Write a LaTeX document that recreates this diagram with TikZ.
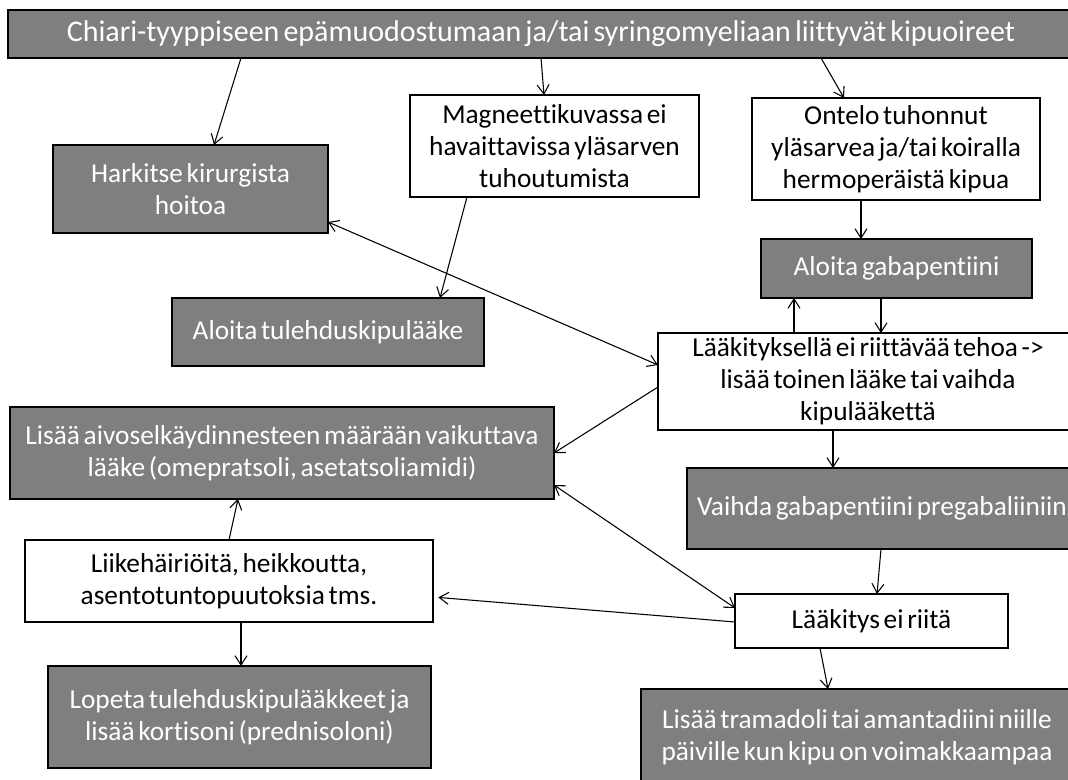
\documentclass[tikz,border=0pt]{standalone}
\usepackage{fontspec}
\setmainfont{Carlito}[Ligatures=NoCommon, WordSpace=0.6]
\usetikzlibrary{arrows.meta,calc}
\definecolor{boxgray}{RGB}{127,127,127}
\newcommand\mybox[7]{\node[#1, minimum width={(#4-#2)*0.75pt}, minimum height={(#5-#3)*0.75pt}] (#6) at ({(#2+#4)/2},{(#3+#5)/2}) {#7};}
\tikzset{
  boxbase/.style={draw=black, line width=2.2pt, align=center, inner sep=0pt, outer sep=0pt,
    font=\fontsize{20.5}{24}\selectfont},
  dark/.style={boxbase, fill=boxgray, text=white},
  light/.style={boxbase, fill=white, text=black},
  conn/.style={line width=0.8pt, -{Straight Barb[length=7pt,width=9pt]}},
  dconn/.style={line width=0.8pt, {Straight Barb[length=7pt,width=9pt]}-{Straight Barb[length=7pt,width=9pt]}}
}
\begin{document}
\begin{tikzpicture}[x=0.75pt,y=-0.75pt]
\useasboundingbox (0,0) rectangle (1068,780);
\fill[white] (0,0) rectangle (1068,780);
\begin{scope}
\clip (0,0) rectangle (1068,780);
\mybox{dark, font=\fontsize{22.5}{26}\selectfont}{8}{10}{1074}{58}{top}{Chiari-tyyppiseen epämuodostumaan ja/tai syringomyeliaan liittyvät kipuoireet}
\mybox{dark}{53}{145}{328}{233}{hark}{Harkitse kirurgista\\hoitoa}
\mybox{light}{410}{95}{699}{197}{magn}{Magneettikuvassa ei\\havaittavissa yläsarven\\tuhoutumista}
\mybox{light}{752}{98}{1040}{200}{ont}{Ontelo tuhonnut\\yläsarvea ja/tai koiralla\\hermoperäistä kipua}
\mybox{dark}{172}{298}{484}{366}{tul}{Aloita tulehduskipulääke}
\mybox{dark}{761}{239}{1032}{298}{gaba}{Aloita gabapentiini}
\mybox{light}{658}{333}{1078}{430}{laak}{Lääkityksellä ei riittävää tehoa ->\\lisää toinen lääke tai vaihda\\kipulääkettä}
\mybox{dark}{10}{407}{554}{499}{aivo}{Lisää aivoselkäydinnesteen määrään vaikuttava\\lääke (omepratsoli, asetatsoliamidi)}
\mybox{dark}{687}{468}{1077}{549}{vaih}{Vaihda gabapentiini pregabaliiniin}
\mybox{light}{25}{540}{433}{622}{liik}{Liikehäiriöitä, heikkoutta,\\asentotuntopuutoksia tms.}
\mybox{light}{735}{594}{1008}{648}{riit}{Lääkitys ei riitä}
\mybox{dark}{48}{666}{431}{768}{lop}{Lopeta tulehduskipulääkkeet ja\\lisää kortisoni (prednisoloni)}
\mybox{dark}{641}{689}{1073}{785}{tram}{Lisää tramadoli tai amantadiini niille\\päiville kun kipu on voimakkaampaa}
\end{scope}
\draw[conn] (top.south -| 241,0) -- (hark.north -| 214,0);
\draw[conn] (top.south -| 541,0) -- (magn.north -| 544,0);
\draw[conn] (top.south -| 821,0) -- (ont.north -| 844,0);
\draw[conn] (ont.south -| 861,0) -- (gaba.north -| 861,0);
\draw[conn] (magn.south -| 467,0) -- (tul.north -| 440,0);
\draw[dconn] (hark.east |- 0,222) -- (laak.west |- 0,365);
\draw[conn] (laak.north -| 794,0) -- (gaba.south -| 794,0);
\draw[conn] (gaba.south -| 881,0) -- (laak.north -| 881,0);
\draw[conn] (laak.west |- 0,387) -- (aivo.east |- 0,453);
\draw[conn] (laak.south -| 833,0) -- (vaih.north -| 833,0);
\draw[conn] (vaih.south -| 881,0) -- (riit.north -| 877,0);
\draw[dconn] (aivo.east |- 0,485) -- (riit.west |- 0,608);
\draw[conn, shorten >=4pt] (riit.west |- 0,622) -- (liik.east |- 0,597);
\draw[conn] (liik.north -| 229,0) -- (aivo.south -| 238,0);
\draw[conn] (liik.south -| 241,0) -- (lop.north -| 241,0);
\draw[conn] (riit.south -| 820,0) -- (tram.north -| 828,0);
\end{tikzpicture}
\end{document}
